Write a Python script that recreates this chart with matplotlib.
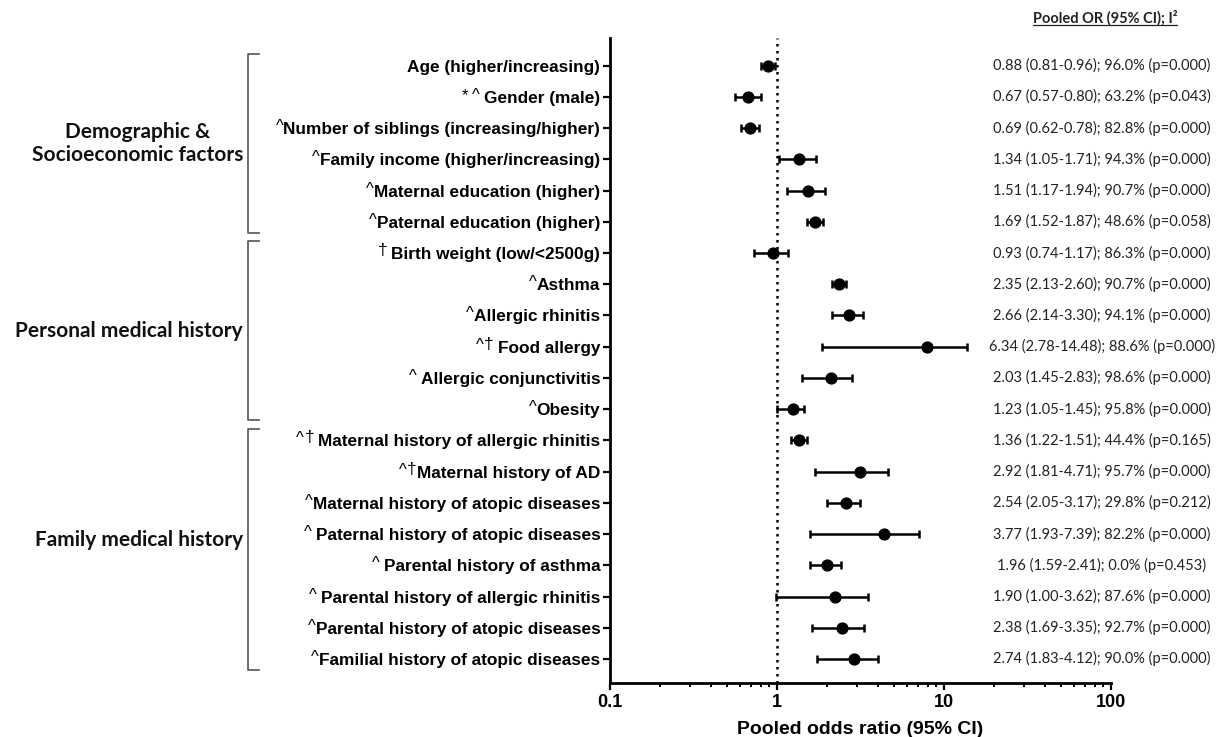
import matplotlib
matplotlib.use("Agg")
import matplotlib.pyplot as plt
import numpy as np
from matplotlib.transforms import blended_transform_factory, IdentityTransform
from matplotlib.lines import Line2D
from matplotlib.ticker import LogLocator, NullFormatter, FixedLocator, FixedFormatter

# ---------------- data ----------------
factors = [
    "Age (higher/increasing)",
    "Gender (male)",
    "Number of siblings (increasing/higher)",
    "Family income (higher/increasing)",
    "Maternal education (higher)",
    "Paternal education (higher)",
    "Birth weight (low/<2500g)",
    "Asthma",
    "Allergic rhinitis",
    "Food allergy",
    "Allergic conjunctivitis",
    "Obesity",
    "Maternal history of allergic rhinitis",
    "Maternal history of AD",
    "Maternal history of atopic diseases",
    "Paternal history of atopic diseases",
    "Parental history of asthma",
    "Parental history of allergic rhinitis",
    "Parental history of atopic diseases",
    "Familial history of atopic diseases",
]
prefixes = ["", "* ^ ", "^", "^", "^", "^", "† ", "^", "^", "^† ", "^ ", "^",
            "^† ", "^†", "^", "^ ", "^ ", "^ ", "^", "^"]

odds_ratio = [0.887, 0.67, 0.69, 1.36, 1.53, 1.68, 0.946, 2.35, 2.70, 7.88,
              2.11, 1.24, 1.35, 3.14, 2.58, 4.37, 1.98, 2.22, 2.46, 2.88]
ci_low = [0.80, 0.56, 0.61, 1.03, 1.15, 1.51, 0.725, 2.13, 2.13, 1.87,
          1.41, 1.00, 1.21, 1.68, 2.00, 1.58, 1.57, 0.99, 1.63, 1.73]
ci_high = [0.97, 0.80, 0.78, 1.71, 1.93, 1.88, 1.17, 2.60, 3.29, 13.8,
           2.80, 1.45, 1.51, 4.62, 3.15, 7.10, 2.41, 3.49, 3.30, 4.05]

summary_text = [
    "0.88 (0.81-0.96); 96.0% (p=0.000)",
    "0.67 (0.57-0.80); 63.2% (p=0.043)",
    "0.69 (0.62-0.78); 82.8% (p=0.000)",
    "1.34 (1.05-1.71); 94.3% (p=0.000)",
    "1.51 (1.17-1.94); 90.7% (p=0.000)",
    "1.69 (1.52-1.87); 48.6% (p=0.058)",
    "0.93 (0.74-1.17); 86.3% (p=0.000)",
    "2.35 (2.13-2.60); 90.7% (p=0.000)",
    "2.66 (2.14-3.30); 94.1% (p=0.000)",
    "6.34 (2.78-14.48); 88.6% (p=0.000)",
    "2.03 (1.45-2.83); 98.6% (p=0.000)",
    "1.23 (1.05-1.45); 95.8% (p=0.000)",
    "1.36 (1.22-1.51); 44.4% (p=0.165)",
    "2.92 (1.81-4.71); 95.7% (p=0.000)",
    "2.54 (2.05-3.17); 29.8% (p=0.212)",
    "3.77 (1.93-7.39); 82.2% (p=0.000)",
    "1.96 (1.59-2.41); 0.0% (p=0.453)",
    "1.90 (1.00-3.62); 87.6% (p=0.000)",
    "2.38 (1.69-3.35); 92.7% (p=0.000)",
    "2.74 (1.83-4.12); 90.0% (p=0.000)",
]
summary_header = "Pooled OR (95% CI); I²"

groups = ["Demographic &\nSocioeconomic factors",
          "Personal medical history",
          "Family medical history"]
group_first = [0, 6, 12]
group_last = [5, 11, 19]

x_ticks = [0.1, 1, 10, 100]
x_tick_labels = ["0.1", "1", "10", "100"]
x_label = "Pooled odds ratio (95% CI)"

# ---------------- figure ----------------
W, H = 1223, 737
fig = plt.figure(figsize=(W / 100, H / 100), dpi=100)
ax = fig.add_axes([610 / W, 1 - 683 / H, (1111 - 610) / W, (683 - 38) / H])

rows = np.arange(len(factors))
orr = np.array(odds_ratio)
xerr = [orr - np.array(ci_low), np.array(ci_high) - orr]

ax.axvline(1, color="black", lw=1.8, ls=(0, (1, 1.8)), zorder=1)
ax.errorbar(orr, rows, xerr=xerr, fmt="o", color="black", ms=7.8,
            elinewidth=1.8, capsize=3.2, capthick=1.8, zorder=3)

ax.set_xscale("log")
ax.set_xlim(0.1, 100)
ax.set_ylim(19.77, -0.886)

ax.xaxis.set_major_locator(FixedLocator(x_ticks))
ax.xaxis.set_major_formatter(FixedFormatter(x_tick_labels))
ax.xaxis.set_minor_locator(LogLocator(base=10, subs=np.arange(2, 10)))
ax.xaxis.set_minor_formatter(NullFormatter())

ax.set_yticks(rows)
ax.set_yticklabels(factors)

for sp in ["top", "right"]:
    ax.spines[sp].set_visible(False)
for sp in ["left", "bottom"]:
    ax.spines[sp].set_linewidth(2.0)

ax.tick_params(axis="y", which="major", length=5, width=1.6, pad=2,
               labelsize=12.4)
ax.tick_params(axis="x", which="major", length=5, width=1.6, pad=3,
               labelsize=13)
ax.tick_params(axis="x", which="minor", length=3, width=1.4)
for lbl in ax.get_yticklabels() + ax.get_xticklabels():
    lbl.set_fontfamily("Liberation Sans")
    lbl.set_fontweight("bold")

ax.set_xlabel(x_label, fontfamily="Liberation Sans", fontweight="bold",
              fontsize=14, labelpad=7)

# right-hand summary column
trans_fy = blended_transform_factory(fig.transFigure, ax.transData)
for r, s in zip(rows, summary_text):
    fig.text(1102 / W, r, s, transform=trans_fy, ha="center", va="center",
             fontfamily="Lato", fontsize=10.5, color="#222222")

hdr = fig.text(1105 / W, 1 - 18 / H, summary_header, ha="center", va="center",
               fontfamily="Lato", fontweight="bold", fontsize=10.5,
               color="#222222")

# group brackets & labels
for g, a, b in zip(groups, group_first, group_last):
    top, bot = a - 0.38, b + 0.36
    fig.add_artist(Line2D([259 / W, 248 / W, 248 / W, 259 / W],
                          [top, top, bot, bot], transform=trans_fy,
                          color="#555555", lw=1.2))
    mid = (a + b) / 2.0 if b != 19 else 15.2
    fig.text(243 / W, mid, g, transform=trans_fy, ha="right", va="center",
             multialignment="center", fontfamily="Lato", fontweight="bold",
             fontsize=15, linespacing=1.2, color="#111111")

# superscript prefixes (placed right-to-left) & header underline
fig.canvas.draw()
renderer = fig.canvas.get_renderer()
char_style = {
    "^": dict(fontsize=12, fontweight="normal", dy=3),
    "†": dict(fontsize=12.5, fontweight="normal", dy=4),
    "*": dict(fontsize=12, fontweight="normal", dy=3),
}
for lbl, pre in zip(ax.get_yticklabels(), prefixes):
    if not pre:
        continue
    bb = lbl.get_window_extent(renderer)
    x = bb.x0
    for ch in reversed(pre):
        if ch == " ":
            x -= 4
            continue
        st = char_style[ch]
        t = fig.text(x, bb.y1 + st["dy"], ch, transform=IdentityTransform(),
                     ha="right", va="top", fontfamily="Liberation Sans",
                     fontsize=st["fontsize"], fontweight=st["fontweight"],
                     color="black")
        tb = t.get_window_extent(renderer)
        x = tb.x0 - 0.5

hb = hdr.get_window_extent(renderer)
fig.add_artist(Line2D([hb.x0, hb.x1], [hb.y0 + 1, hb.y0 + 1],
                      transform=IdentityTransform(), color="#222222", lw=0.9))

fig.savefig("out.png", dpi=100)
